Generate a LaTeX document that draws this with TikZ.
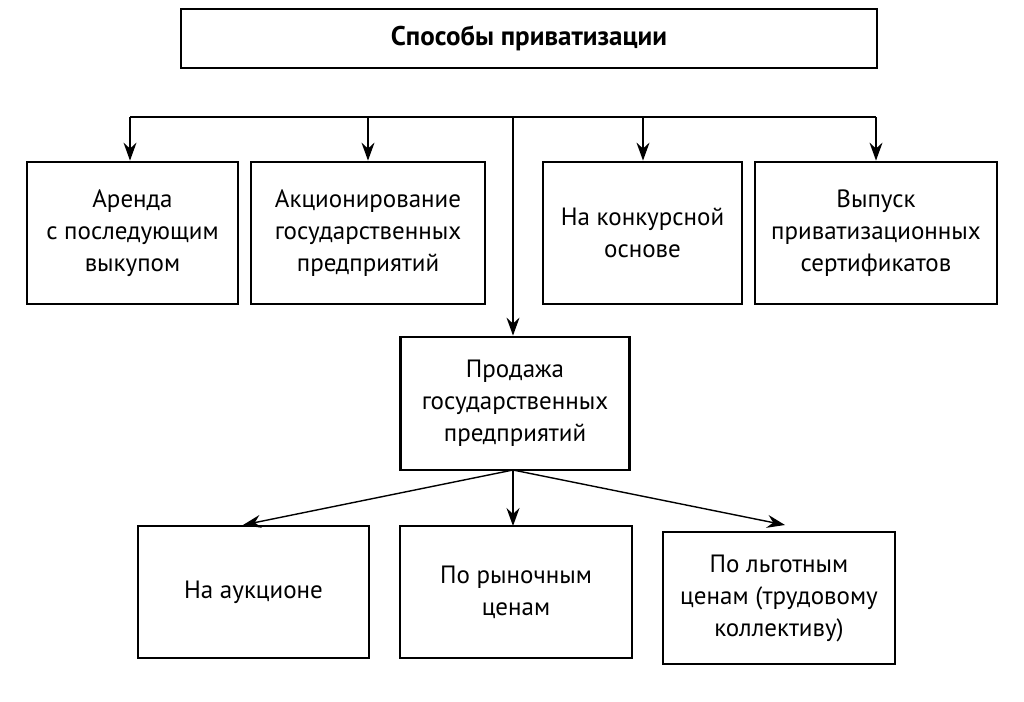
\documentclass[tikz,border=0pt]{standalone}
\usepackage{fontspec}
\setmainfont{PT Sans}
\usetikzlibrary{arrows.meta}
\begin{document}
\begin{tikzpicture}[x=1pt,y=-1pt,
  box/.style={draw=black,line width=2.8pt,rectangle,align=center,inner sep=0pt,
    font=\fontsize{25}{32}\selectfont},
  conn/.style={draw=black,line width=1.4pt,-{Stealth[length=18pt,width=13pt,inset=6pt]}},
  bus/.style={draw=black,line width=1.4pt}]
\useasboundingbox (0,0) rectangle (1024,701);
\fill[white] (0,0) rectangle (1024,701);
\node[box,minimum width=696pt,minimum height=59pt,font=\bfseries\fontsize{27}{30}\selectfont] (title) at (529,38.5) {Способы приватизации};
\node[box,minimum width=211pt,minimum height=142pt] (b1) at (132.5,233) {Аренда\\с последующим\\выкупом};
\node[box,minimum width=234pt,minimum height=142pt] (b2) at (368,233) {Акционирование\\государственных\\предприятий};
\node[box,minimum width=199pt,minimum height=142pt] (b3) at (642.5,233) {На конкурсной\\основе};
\node[box,minimum width=242pt,minimum height=142pt] (b4) at (876,233) {Выпуск\\приватизационных\\сертификатов};
\node[box,minimum width=229pt,minimum height=133pt] (sale) at (515,403.5) {Продажа\\государственных\\предприятий};
\node[box,minimum width=231pt,minimum height=132pt] (c1) at (253.5,592) {На аукционе};
\node[box,minimum width=232pt,minimum height=132pt] (c2) at (516,592) {По рыночным\\ценам};
\node[box,minimum width=232pt,minimum height=132pt] (c3) at (779,598) {По льготным\\ценам (трудовому\\коллективу)};
\coordinate (p1) at (130,117);
\coordinate (p2) at (368,117);
\coordinate (pc) at (513,117);
\coordinate (p3) at (643,117);
\coordinate (p4) at (876,117);
\coordinate (s) at (513,470);
\coordinate (t1) at (243,525);
\coordinate (t2) at (513,526);
\coordinate (t3) at (785,525);
\draw[bus] (p1) -- (p4);
\draw[conn] (p1) -- (p1 |- b1.north);
\draw[conn] (p2) -- (p2 |- b2.north);
\draw[conn] (p3) -- (p3 |- b3.north);
\draw[conn] (p4) -- (p4 |- b4.north);
\draw[conn] (pc) -- (pc |- sale.north);
\draw[conn] (s) -- (t1);
\draw[conn] (s) -- (t2);
\draw[conn] (s) -- (t3);
\end{tikzpicture}
\end{document}
